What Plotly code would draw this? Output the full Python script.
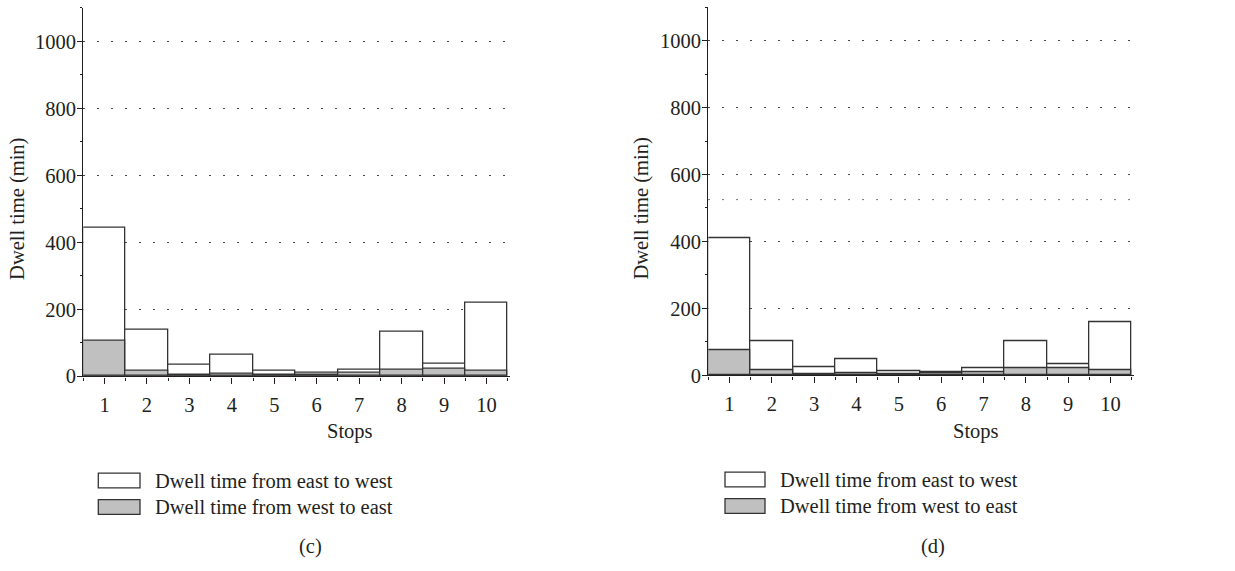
import plotly.graph_objects as go

# ---- data ----
stops = list(range(1, 11))
tick_labels = [str(s) for s in stops]
c_east_to_west = [442, 138, 33, 65, 15, 11, 20, 132, 37, 220]
c_west_to_east = [107, 15, 5, 7, 4, 3, 10, 18, 21, 15]
d_east_to_west = [410, 102, 24, 47, 12, 9, 21, 101, 32, 159]
d_west_to_east = [76, 14, 4, 6, 3, 6, 9, 20, 21, 14]
d_extra_ref = [525]
series_names = ["Dwell time from east to west", "Dwell time from west to east"]
panel_labels = ["(c)", "(d)"]
x_title = "Stops"
y_title = "Dwell time (min)"

# ---- style ----
W, H = 1235, 571
FONT = "Liberation Serif"
TXT = "#231f20"
EDGE = "#333333"
GRAY = "#c0c0c0"
FS = 20.5
DOT = "1.5px,12.5px"


def px(x):
    return x / W


def py(y):
    return 1 - y / H


fig = go.Figure()

panels = [
    ("x", "y", c_east_to_west, c_west_to_east),
    ("x2", "y2", d_east_to_west, d_west_to_east),
]
for xa, ya, ew, we in panels:
    fig.add_trace(go.Bar(x=stops, y=ew, width=1, xaxis=xa, yaxis=ya,
                         name=series_names[0], showlegend=False,
                         marker=dict(color="white", line=dict(color=EDGE, width=1.3))))
    fig.add_trace(go.Bar(x=stops, y=we, width=1, xaxis=xa, yaxis=ya,
                         name=series_names[1], showlegend=False,
                         marker=dict(color=GRAY, line=dict(color=EDGE, width=1.3))))


def xaxis_cfg(x0, x1):
    return dict(domain=[px(x0), px(x1)], range=[0.5, 10.55],
                tickmode="array", tickvals=stops, ticktext=tick_labels,
                ticks="outside", ticklen=6, tickwidth=1.2, tickcolor=TXT,
                ticklabelstandoff=4,
                minor=dict(tickmode="linear", tick0=0.5, dtick=1, ticks="outside",
                           ticklen=3, tickwidth=1.2, tickcolor=TXT, showgrid=False),
                showline=True, linecolor=TXT, linewidth=1.4,
                showgrid=False, zeroline=False,
                tickfont=dict(family=FONT, size=FS, color=TXT), fixedrange=True)


def yaxis_cfg(y0, y1):
    return dict(domain=[py(y0), py(y1)], range=[0, 1100],
                tickmode="linear", tick0=0, dtick=200,
                ticks="outside", ticklen=5, tickwidth=1.2, tickcolor=TXT,
                ticklabelstandoff=-3,
                minor=dict(tickmode="linear", tick0=100, dtick=200, ticks="outside",
                           ticklen=2.5, tickwidth=1.2, tickcolor=TXT, showgrid=False),
                showline=True, linecolor=TXT, linewidth=1.4,
                showgrid=True, gridcolor="#444444", gridwidth=1, griddash=DOT,
                zeroline=False,
                tickfont=dict(family=FONT, size=FS, color=TXT), fixedrange=True)


fig.update_layout(
    width=W, height=H, margin=dict(l=0, r=0, t=0, b=0),
    paper_bgcolor="white", plot_bgcolor="white",
    barmode="overlay", bargap=0,
    xaxis=dict(anchor="y", **xaxis_cfg(83.3, 509.8)),
    yaxis=dict(anchor="x", **yaxis_cfg(383.7, 8)),
    xaxis2=dict(anchor="y2", **xaxis_cfg(708.3, 1133.8)),
    yaxis2=dict(anchor="x2", **yaxis_cfg(382.7, 7.3)),
    font=dict(family=FONT, size=FS, color=TXT),
)

# extra dotted reference line in panel (d)
for v in d_extra_ref:
    fig.add_shape(type="line", xref="x2 domain", x0=0, x1=1, yref="y2", y0=v, y1=v,
                  layer="below", line=dict(color="#444444", width=1, dash=DOT))

annots = []
shapes = []
# per-panel text placement (pixels)
layout_px = [
    dict(ytx=18, stx=350, lbx=310, box0=98.3, box1=140, txt=153, r1=490, r2=517),
    dict(ytx=641.7, stx=976, lbx=933, box0=725, box1=765, txt=778.3, r1=489, r2=516),
]
for i, L in enumerate(layout_px):
    annots.append(dict(text=y_title, x=px(L["ytx"]), y=py(213), xref="paper", yref="paper",
                       textangle=-90, showarrow=False, xanchor="center", yanchor="middle",
                       font=dict(family=FONT, size=FS, color=TXT)))
    annots.append(dict(text=x_title, x=px(L["stx"]), y=py(440), xref="paper", yref="paper",
                       showarrow=False, xanchor="center", yanchor="middle",
                       font=dict(family=FONT, size=FS, color=TXT)))
    annots.append(dict(text=panel_labels[i], x=px(L["lbx"]), y=py(557), xref="paper", yref="paper",
                       showarrow=False, xanchor="center", yanchor="middle",
                       font=dict(family=FONT, size=FS, color=TXT)))
    for row, (name, fill) in enumerate(zip(series_names, ["white", GRAY])):
        yc = L["r1"] if row == 0 else L["r2"]
        shapes.append(dict(type="rect", xref="paper", yref="paper",
                           x0=px(L["box0"]), x1=px(L["box1"]),
                           y0=py(yc - 7.5), y1=py(yc + 7.5),
                           fillcolor=fill, line=dict(color=EDGE, width=1.3)))
        annots.append(dict(text=name, x=px(L["txt"]), y=py(yc), xref="paper", yref="paper",
                           showarrow=False, xanchor="left", yanchor="middle",
                           font=dict(family=FONT, size=FS, color=TXT)))

for s in shapes:
    fig.add_shape(**s)
fig.update_layout(annotations=annots)

fig.write_html("out.html")
